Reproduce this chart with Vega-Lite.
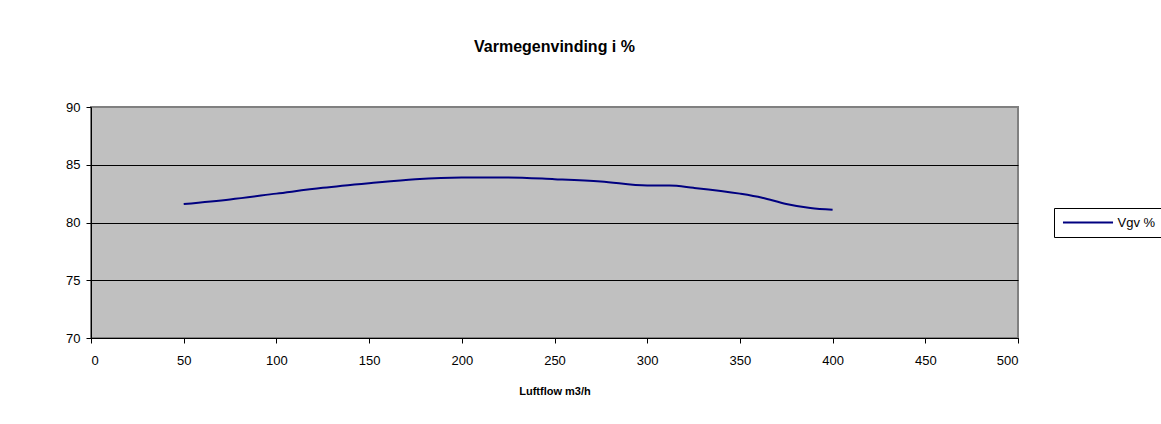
{
  "$schema": "https://vega.github.io/schema/vega-lite/v6.json",
  "autosize": {"type": "none"},
  "width": 927,
  "height": 231,
  "padding": {"left": 91, "top": 107, "right": 143, "bottom": 86},
  "background": "white",
  "title": {
    "text": "Varmegenvinding i %",
    "font": "Liberation Sans",
    "fontSize": 16,
    "fontWeight": "bold",
    "color": "black",
    "anchor": "middle",
    "offset": 46
  },
  "data": {
    "values": [
      {"flow": 50, "vgv": 81.6, "series": "Vgv %"},
      {"flow": 75, "vgv": 82.0, "series": "Vgv %"},
      {"flow": 100, "vgv": 82.5, "series": "Vgv %"},
      {"flow": 125, "vgv": 83.0, "series": "Vgv %"},
      {"flow": 150, "vgv": 83.4, "series": "Vgv %"},
      {"flow": 175, "vgv": 83.75, "series": "Vgv %"},
      {"flow": 200, "vgv": 83.9, "series": "Vgv %"},
      {"flow": 225, "vgv": 83.9, "series": "Vgv %"},
      {"flow": 250, "vgv": 83.75, "series": "Vgv %"},
      {"flow": 275, "vgv": 83.55, "series": "Vgv %"},
      {"flow": 300, "vgv": 83.2, "series": "Vgv %"},
      {"flow": 312, "vgv": 83.2, "series": "Vgv %"},
      {"flow": 325, "vgv": 83.0, "series": "Vgv %"},
      {"flow": 350, "vgv": 82.5, "series": "Vgv %"},
      {"flow": 362, "vgv": 82.15, "series": "Vgv %"},
      {"flow": 375, "vgv": 81.6, "series": "Vgv %"},
      {"flow": 388, "vgv": 81.25, "series": "Vgv %"},
      {"flow": 400, "vgv": 81.1, "series": "Vgv %"}
    ]
  },
  "mark": {"type": "line", "strokeWidth": 2, "interpolate": "monotone"},
  "encoding": {
    "x": {
      "field": "flow",
      "type": "quantitative",
      "scale": {"domain": [0, 500], "nice": false, "zero": false},
      "axis": {
        "title": "Luftflow m3/h",
        "values": [0, 50, 100, 150, 200, 250, 300, 350, 400, 450, 500],
        "grid": false,
        "tickSize": 5,
        "labelPadding": 11,
        "titlePadding": 18,
        "titleFontSize": 11,
        "titleFontWeight": "bold"
      }
    },
    "y": {
      "field": "vgv",
      "type": "quantitative",
      "scale": {"domain": [70, 90], "nice": false, "zero": false},
      "axis": {
        "title": null,
        "values": [70, 75, 80, 85, 90],
        "grid": true,
        "gridColor": {"condition": {"test": "datum.value >= 90", "value": "#808080"}, "value": "#000000"},
        "gridOpacity": 1,
        "gridWidth": 1,
        "tickSize": 5,
        "labelPadding": 6
      }
    },
    "color": {
      "field": "series",
      "type": "nominal",
      "scale": {"range": ["#000080"]},
      "legend": {
        "title": null,
        "orient": "none",
        "legendX": 963,
        "legendY": 101,
        "symbolType": "M-3.85,0H3.85",
        "symbolSize": 169,
        "symbolOffset": 19.5,
        "symbolStrokeWidth": 2,
        "symbolFillColor": "transparent",
        "labelOffset": 22,
        "padding": 7,
        "strokeColor": "black",
        "fillColor": "white"
      }
    }
  },
  "config": {
    "font": "Liberation Sans",
    "view": {"fill": "#C0C0C0", "stroke": "#808080", "strokeWidth": 2},
    "axis": {
      "domainColor": "black",
      "domainWidth": 1,
      "tickColor": "black",
      "tickWidth": 1,
      "labelColor": "black",
      "labelFont": "Liberation Sans",
      "labelFontSize": 13,
      "titleColor": "black",
      "titleFont": "Liberation Sans"
    },
    "legend": {
      "labelFont": "Liberation Sans",
      "labelFontSize": 13,
      "labelColor": "black"
    }
  }
}
